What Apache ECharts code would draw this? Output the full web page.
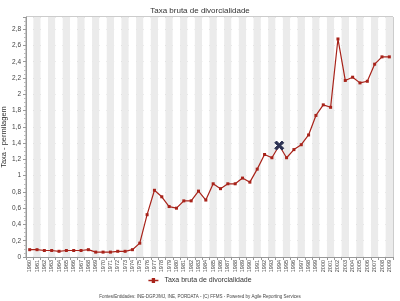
<!DOCTYPE html>
<html><head><meta charset="utf-8">
<script src="https://cdn.jsdelivr.net/npm/echarts@6/dist/echarts.min.js"></script>
<style>html,body{margin:0;padding:0;background:#fff}#c{width:400px;height:301px}</style>
</head><body><div id="c"></div>
<script>
var years = [];
for (var y = 1960; y <= 2009; y++) years.push(String(y));
var rates = [0.09,0.09,0.08,0.08,0.07,0.08,0.08,0.08,0.09,0.06,
             0.06,0.06,0.07,0.07,0.09,0.17,0.52,0.82,0.74,0.62,
             0.60,0.69,0.69,0.81,0.70,0.90,0.84,0.90,0.90,0.97,
             0.92,1.08,1.26,1.22,1.37,1.22,1.32,1.38,1.50,1.74,
             1.87,1.84,2.68,2.17,2.21,2.14,2.16,2.37,2.46,2.46];
var highlightYear = '1994';
var titleText = 'Taxa bruta de divorcialidade';
var seriesName = 'Taxa bruta de divorcialidade';
var yName = 'Taxa - permilagem';
var footer = 'Fontes/Entidades: INE-DGPJ/MJ, INE, PORDATA - (C) FFMS - Powered by Agile Reporting Services';

var data = rates.map(function (v, i) {
  if (years[i] === highlightYear) {
    return {value: v, symbol: 'path://M0,2 L2,0 L5,3 L8,0 L10,2 L7,5 L10,8 L8,10 L5,7 L2,10 L0,8 L3,5 Z',
      symbolSize: 9, itemStyle: {color: '#2b3152', borderColor: '#2b3152'}};
  }
  return v;
});

var chart = echarts.init(document.getElementById('c'));
chart.setOption({
  animation: false,
  title: {text: titleText, left: 'center', top: 2,
    textStyle: {fontFamily: 'Arial, Liberation Sans', fontSize: 8, fontWeight: 'normal', color: '#333'}},
  grid: {left: 26, right: 7, top: 17, bottom: 44, outerBoundsMode: 'none', containLabel: false,
    show: true, borderColor: '#999', borderWidth: 1, backgroundColor: '#fff'},
  legend: {bottom: 12, left: 'center', itemWidth: 12, itemHeight: 5, itemGap: 4,
    textStyle: {fontFamily: 'Arial, Liberation Sans', fontSize: 7, color: '#333'},
    data: [{name: seriesName, icon: 'path://M0,4 L4,4 L4,2 L8,2 L8,4 L12,4 L12,6 L8,6 L8,8 L4,8 L4,6 L0,6 Z'}]},
  graphic: [{type: 'text', left: 'center', bottom: 2,
    style: {text: footer, fontFamily: 'Arial, Liberation Sans', fontSize: 4.5, fill: '#444'}}],
  xAxis: {type: 'category', data: years, boundaryGap: true,
    axisLine: {show: true, lineStyle: {color: '#999'}},
    axisTick: {show: true, alignWithLabel: false, length: 3, lineStyle: {color: '#999'}},
    axisLabel: {rotate: 90, interval: 0, fontSize: 5.5, color: '#444', margin: 3, fontFamily: 'Arial, Liberation Sans'},
    splitArea: {show: true, interval: 0, areaStyle: {color: ['#ffffff', '#ebebeb']}},
    splitLine: {show: false}},
  yAxis: {type: 'value', min: 0, max: 2.95, interval: 0.2,
    name: yName, nameLocation: 'middle', nameGap: 18, nameRotate: 90, nameMoveOverlap: false,
    nameTextStyle: {fontFamily: 'Arial, Liberation Sans', fontSize: 7.5, color: '#333'},
    axisLine: {show: true, lineStyle: {color: '#999'}},
    axisTick: {show: true, length: 3, lineStyle: {color: '#999'}},
    minorTick: {show: true, splitNumber: 4, length: 2, lineStyle: {color: '#bbb'}},
    axisLabel: {fontSize: 6.5, color: '#444', margin: 5, showMaxLabel: false,
      fontFamily: 'Arial, Liberation Sans',
      formatter: function (v) { return Math.abs(v * 5 - Math.round(v * 5)) < 1e-6 ? String(Math.round(v * 10) / 10).replace('.', ',') : ''; }},
    splitLine: {show: true, lineStyle: {color: '#b4b4b4', width: 1}}},
  series: [{name: seriesName, type: 'line', data: data, symbol: 'rect', symbolSize: 3,
    lineStyle: {color: '#a8231a', width: 1.2}, itemStyle: {color: '#a8231a'}}]
});
</script></body></html>
